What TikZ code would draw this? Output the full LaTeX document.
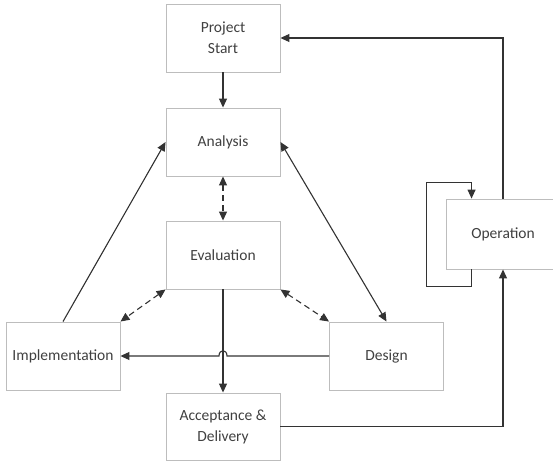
\documentclass[tikz,border=0pt]{standalone}
\usepackage{fontspec}
\setmainfont{Carlito}
\usetikzlibrary{arrows.meta,calc}
\definecolor{boxc}{HTML}{BDBDBD}
\definecolor{linec}{HTML}{333333}
\definecolor{txtc}{HTML}{404040}
\begin{document}
\begin{tikzpicture}[x=1pt,y=-1pt,
 box/.style={draw=boxc,line width=0.9pt,minimum width=114pt,minimum height=68pt,inner sep=0pt,align=center,text=txtc,font=\fontsize{15.5}{21}\selectfont},
 conn/.style={draw=linec,line width=1.1pt,-{Triangle[length=9pt,width=8pt]}},
 conn2/.style={conn,{Triangle[length=9pt,width=8pt]}-{Triangle[length=9pt,width=8pt]}},
 dconn/.style={conn2,dash pattern=on 6pt off 4pt}]
\useasboundingbox (0,0) rectangle (553,462);
\fill[white] (0,0) rectangle (553,462);
\node[box] (start) at (223,38) {Project\\Start};
\node[box] (analysis) at (223,142) {Analysis};
\node[box] (eval) at (223,255) {Evaluation};
\node[box] (impl) at (63,356) {Implementation};
\node[box] (design) at (386.5,356) {Design};
\node[box,minimum height=67pt] (accept) at (223,426.5) {Acceptance \&\\Delivery};
\node[box,minimum height=70pt] (oper) at (503,234) {Operation};
\draw[conn] (start.south) -- (analysis.north);
\draw[dconn] (analysis.south) -- (eval.north);
\draw[conn] (impl.north) -- (analysis.west);
\draw[conn2] (analysis.east) -- (design.north);
\draw[dconn] (eval.south west) -- (impl.north east);
\draw[dconn] (eval.south east) -- (design.north west);
\draw[conn] (eval.south) -- (accept.north);
\coordinate (hop) at (eval.south |- design.west);
\draw[conn] (design.west) -- ($(hop)+(4,0)$) .. controls ($(hop)+(4,-7)$) and ($(hop)+(-4,-7)$) .. ($(hop)+(-4,0)$) -- (impl.east);
\draw[conn] (oper.north) |- (start.east);
\draw[conn] (accept.east) -| (oper.south);
\coordinate (lp) at ($(oper.south west)+(26,0)$);
\coordinate (lt) at ($(oper.north west)+(26,0)$);
\draw[conn] (lp) -- ++(0,17) -- ++(-45,0) |- ($(lt)+(0,-16)$) -- (lt);
\end{tikzpicture}
\end{document}
